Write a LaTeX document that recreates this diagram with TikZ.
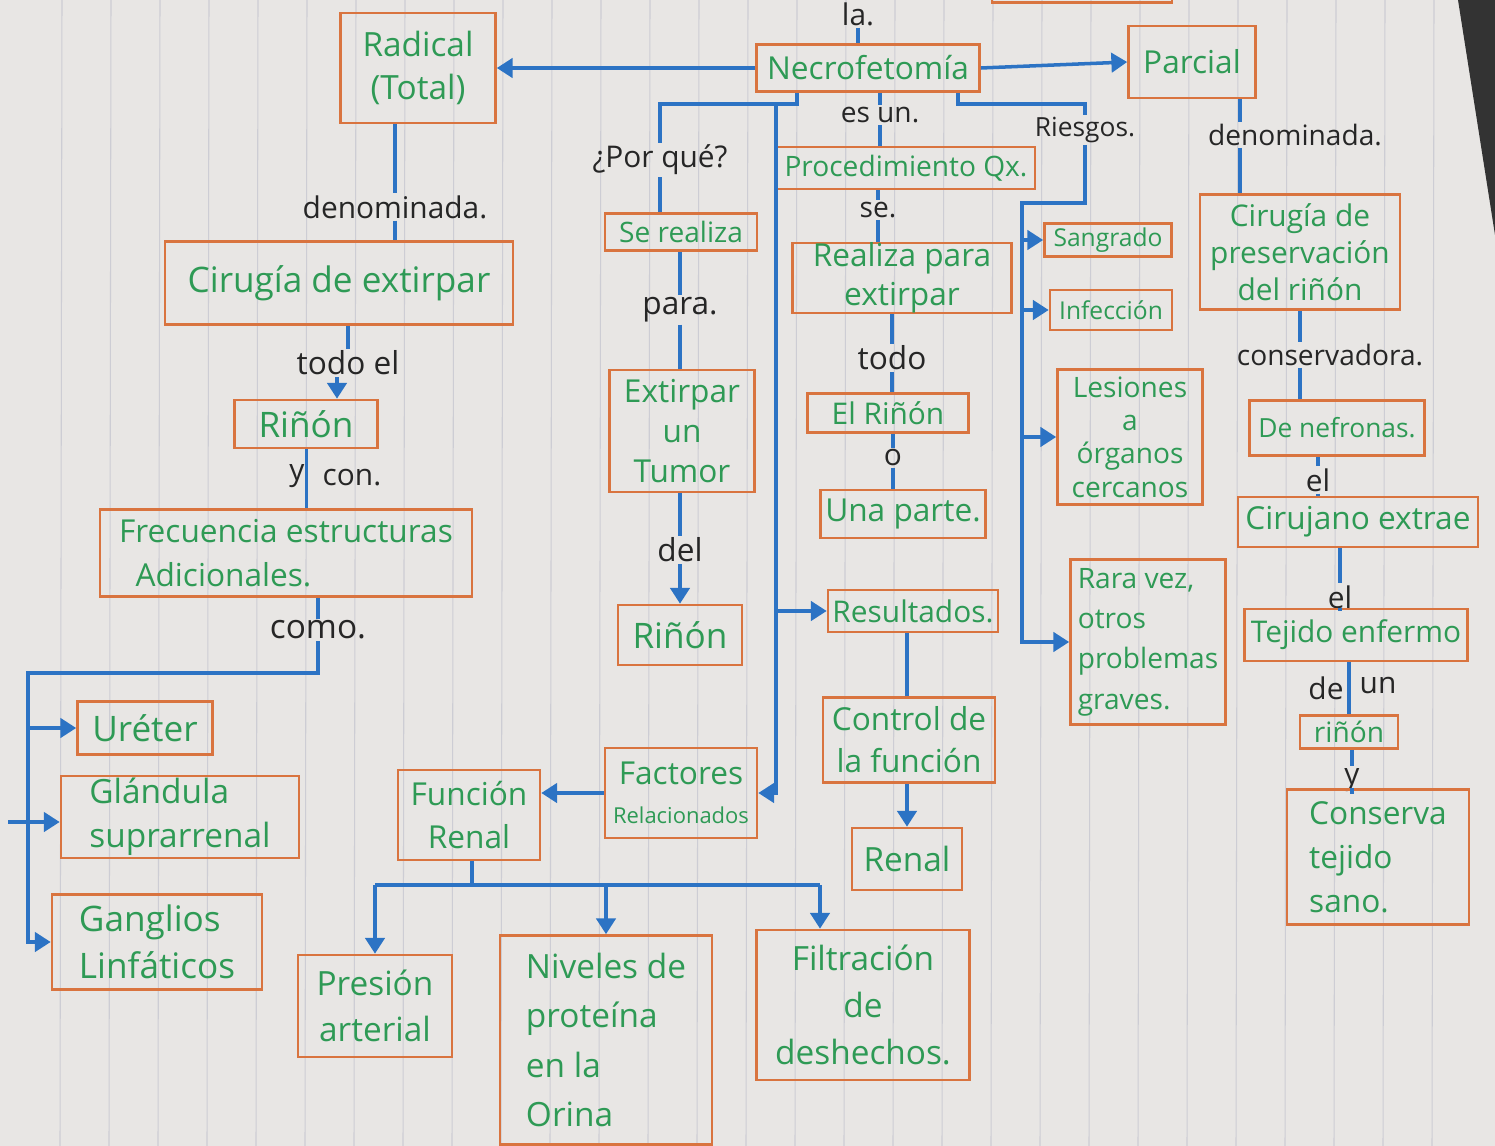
\documentclass[tikz,border=0pt]{standalone}
\usepackage{fontspec}
\setmainfont{Open Sans}
\usetikzlibrary{arrows.meta}
\definecolor{paper}{HTML}{E8E6E4}
\definecolor{rulec}{HTML}{CDCDD4}
\definecolor{boxor}{HTML}{D9743F}
\definecolor{txtg}{HTML}{2E9A55}
\definecolor{lnb}{HTML}{2C73C4}
\newcommand\fsz[2]{\fontsize{#1}{#2}\selectfont}
\tikzset{
 box/.style={draw=boxor, line width=1.5pt, text=txtg, align=center, inner sep=0pt},
 wh/.style 2 args={minimum width=#1*0.02cm, minimum height=#2*0.02cm},
 lbl/.style={text=black!85, inner sep=1pt, font=\fsz{17}{20}},
 con/.style={draw=lnb, line width=2pt},
 arr/.style={con, -{Triangle[width=11pt,length=9pt]}},
}
\begin{document}
\begin{tikzpicture}[x=0.02cm,y=-0.02cm]
\useasboundingbox (0,0) rectangle (1495,1146);
\clip (0,0) rectangle (1495,1146);
\fill[paper] (0,0) rectangle (1495,1146);
\foreach \i in {0,...,28} \draw[rulec, line width=0.6pt] ({62+49*\i},0) -- ({60+49*\i},1146);
\fill[black!80] (1458,0) -- (1495,0) -- (1495,235) -- cycle;

% ---- top row
\node[box, wh={155}{110}, font=\fsz{19}{24}] (radical) at (418,68) {Radical\\(Total)};
\node[box, wh={223}{47}, font=\fsz{18}{22}] (necro) at (868,68) {Necrofetomía};
\node[box, wh={127}{72}, font=\fsz{18}{22}] (parcial) at (1192,62) {Parcial};
\node[box, wh={180}{45}] (topbox) at (1082,-20) {};
\node[lbl] (la) at (858,14) {la.};

% ---- left column
\node[lbl] (den1) at (395,207) {denominada.};
\node[box, wh={348}{83}, font=\fsz{20}{24}] (cirugiaR) at (339,283) {Cirugía de extirpar};
\node[lbl, font=\fsz{18}{22}] (todoel) at (348,363) {todo el};
\node[box, wh={143}{48}, font=\fsz{20}{24}] (rinonL) at (306,424) {Riñón};
\node[lbl] (ylbl) at (297,476) {y};
\node[lbl] (conlbl) at (352,478) {con.};
\node[box, wh={372}{87}, font=\fsz{18}{25}, align=left] (frec) at (286,553) {Frecuencia estructuras\\\ \ Adicionales.};
\node[lbl, font=\fsz{19}{22}] (como) at (318,630) {como.};
\node[box, wh={135}{53}, font=\fsz{20}{24}] (ureter) at (145,728) {Uréter};
\node[box, wh={238}{82}, font=\fsz{19}{25}, align=left] (glandula) at (180,817) {Glándula\\suprarrenal};
\node[box, wh={210}{95}, font=\fsz{20}{27}, align=left] (ganglios) at (157,942) {Ganglios\\Linfáticos};

% ---- middle-left column
\node[lbl] (porque) at (660,160) {¿Por qué?};
\node[box, wh={152}{37}, font=\fsz{16}{20}] (serealiza) at (681,232) {Se realiza};
\node[lbl, font=\fsz{18}{22}] (para) at (680,310) {para.};
\node[box, wh={145}{122}, font=\fsz{18}{23}] (tumor) at (682,431) {Extirpar\\un\\Tumor};
\node[lbl, font=\fsz{18}{22}] (del) at (680,550) {del};
\node[box, wh={124}{60}, font=\fsz{20}{24}] (rinonM) at (680,635) {Riñón};
\node[box, wh={152}{90}, font=\fsz{12.5}{22}] (factores) at (681,793) {{\fsz{18}{24}Factores}\\Relacionados};
\node[box, wh={142}{90}, font=\fsz{18}{24}] (funcion) at (469,815) {Función\\Renal};
\node[box, wh={154}{102}, font=\fsz{19}{26}] (presion) at (375,1006) {Presión\\arterial};
\node[box, wh={212}{209}, font=\fsz{19}{28}, align=left] (niveles) at (606,1040) {Niveles de\\proteína\\en la\\Orina};
\node[box, wh={213}{150}, font=\fsz{19}{27}] (filtracion) at (863,1005) {Filtración\\de\\deshechos.};

% ---- middle column
\node[lbl, font=\fsz{16}{20}] (esun) at (880,115) {es un.};
\node[box, wh={258}{42}, font=\fsz{16}{20}] (proced) at (906,168) {Procedimiento Qx.};
\node[lbl, font=\fsz{16}{20}] (se) at (878,210) {se.};
\node[box, wh={219}{69}, font=\fsz{18}{22}] (realiza) at (902,278) {Realiza para\\extirpar};
\node[lbl, font=\fsz{18}{22}] (todo) at (892,358) {todo};
\node[box, wh={161}{39}, font=\fsz{17}{20}] (elrinon) at (888,413) {El Riñón};
\node[lbl] (o) at (893,458) {o};
\node[box, wh={165}{48}, font=\fsz{18}{22}] (unaparte) at (903,514) {Una parte.};
\node[box, wh={170}{42}, font=\fsz{17}{20}] (resultados) at (913,611) {Resultados.};
\node[box, wh={172}{85}, font=\fsz{18}{24}] (control) at (909,740) {Control de\\la función};
\node[box, wh={110}{62}, font=\fsz{19}{22}] (renalM) at (907,859) {Renal};

% ---- risks column
\node[lbl, font=\fsz{15}{18}] (riesgos) at (1085,130) {Riesgos.};
\node[box, wh={127}{33}, font=\fsz{14}{17}] (sangrado) at (1108,240) {Sangrado};
\node[box, wh={122}{40}, font=\fsz{14}{17}] (infeccion) at (1111,310) {Infección};
\node[box, wh={145}{135}, font=\fsz{16}{19}] (lesiones) at (1130,437) {Lesiones\\a\\órganos\\cercanos};
\node[box, wh={155}{165}, font=\fsz{16}{23}, align=left] (raravez) at (1148,642) {Rara vez,\\otros\\problemas\\graves.};

% ---- right column
\node[lbl, font=\fsz{16}{20}] (den2) at (1295,135) {denominada.};
\node[box, wh={200}{115}, font=\fsz{17}{21}] (cirugiaP) at (1300,252) {Cirugía de\\preservación\\del riñón};
\node[lbl, font=\fsz{16}{20}] (conserv) at (1330,355) {conservadora.};
\node[box, wh={175}{55}, font=\fsz{15}{19}] (nefronas) at (1337,428) {De nefronas.};
\node[lbl] (el1) at (1318,480) {el};
\node[box, wh={240}{50}, font=\fsz{18}{22}] (cirujano) at (1358,522) {Cirujano extrae};
\node[lbl] (el2) at (1340,597) {el};
\node[box, wh={223}{52}, font=\fsz{17}{21}] (tejidoE) at (1356,635) {Tejido enfermo};
\node[lbl] (de) at (1326,688) {de};
\node[lbl] (un) at (1378,686) {un};
\node[box, wh={98}{33}, font=\fsz{16}{19}] (rinonR) at (1349,732) {riñón};
\node[lbl] (y2) at (1352,780) {y};
\node[box, wh={182}{135}, font=\fsz{18}{25}, align=left] (conserva) at (1378,857) {Conserva\\tejido\\sano.};

% ---- connectors
\draw[con] (la.south) -- (la.south |- necro.north);
\draw[arr] (necro.west) -- (radical.east);
\draw[arr] (necro.east) -- (parcial.west);

\draw[con] (radical.south -| den1) -- (den1.north);
\draw[con] (den1.south) -- (den1.south |- cirugiaR.north);
\draw[con] (cirugiaR.south -| todoel) -- (todoel.north);
\coordinate (t1) at ([xshift=-0.22cm]todoel.south);
\draw[arr] (t1) -- (t1 |- rinonL.north);
\draw[con] (rinonL.south -| ylbl.east) -- (frec.north -| ylbl.east);
\draw[con] (frec.south -| como) -- (como.north);
\coordinate (b1) at (28,673);
\draw[arr] (como.south) |- (b1) -- (b1 |- ganglios.west) -- (ganglios.west);
\draw[arr] (b1 |- ureter.west) -- (ureter.west);
\coordinate (g1) at (8,822);
\draw[arr] (g1) -- (g1 -| glandula.west);

\coordinate (nA) at (797,104);
\draw[con] (necro.south -| nA) -- (nA) -| (porque.north);
\coordinate (nT) at (776,104);
\draw[arr] (nT) |- (factores.east);
\draw[arr] (nT |- resultados.west) -- (resultados.west);
\draw[con] (porque.south) -- (porque.south |- serealiza.north);
\draw[con] (serealiza.south -| para) -- (para.north);
\draw[con] (para.south) -- (para.south |- tumor.north);
\draw[con] (tumor.south -| del) -- (del.north);
\draw[arr] (del.south) -- (del.south |- rinonM.north);

\draw[con] (necro.south -| esun) -- (esun.north);
\draw[con] (esun.south) -- (esun.south |- proced.north);
\draw[con] (proced.south -| se) -- (se.north);
\draw[con] (se.south) -- (se.south |- realiza.north);
\draw[con] (realiza.south -| todo) -- (todo.north);
\draw[con] (todo.south) -- (todo.south |- elrinon.north);
\draw[con] (elrinon.south -| o) -- (o.north);
\draw[con] (o.south) -- (o.south |- unaparte.north);
\draw[con] (resultados.south -| renalM) -- (control.north -| renalM);
\draw[arr] (control.south -| renalM) -- (renalM.north);

\draw[arr] (factores.west) -- (factores.west -| funcion.east);
\coordinate (fb) at (472,885);
\coordinate (fx) at (820,885);
\draw[con] (funcion.south -| fb) -- (fb);
\draw[con] (presion.north |- fb) -- (fx);
\draw[arr] (presion.north |- fb) -- (presion.north);
\draw[arr] (niveles.north |- fb) -- (niveles.north);
\draw[arr] (fx) -- (fx |- filtracion.north);

\coordinate (nR) at (958,104);
\draw[con] (necro.south -| nR) -- (nR) -| (riesgos.north);
\coordinate (rT) at (1022,203);
\draw[arr] (riesgos.south) |- (rT) |- (raravez.west);
\draw[arr] (rT |- sangrado.west) -- (sangrado.west);
\draw[arr] (rT |- infeccion.west) -- (infeccion.west);
\draw[arr] (rT |- lesiones.west) -- (lesiones.west);

\coordinate (p1) at (1240,0);
\draw[con] (parcial.south -| p1) -- (den2.north -| p1);
\draw[con] (den2.south -| p1) -- (cirugiaP.north -| p1);
\draw[con] (cirugiaP.south) -- (conserv.north -| cirugiaP.south);
\draw[con] (conserv.south -| cirugiaP.south) -- (nefronas.north -| cirugiaP.south);
\draw[con] (nefronas.south -| el1) -- (el1.north);
\draw[con] (el1.south) -- (el1.south |- cirujano.north);
\draw[con] (cirujano.south -| el2) -- (el2.north);
\draw[con] (el2.south) -- (el2.south |- tejidoE.north);
\draw[con] (tejidoE.south -| rinonR) -- (rinonR.north);
\draw[con] (rinonR.south -| y2) -- (y2.north);
\draw[con] (y2.south) -- (y2.south |- conserva.north);
\end{tikzpicture}
\end{document}
